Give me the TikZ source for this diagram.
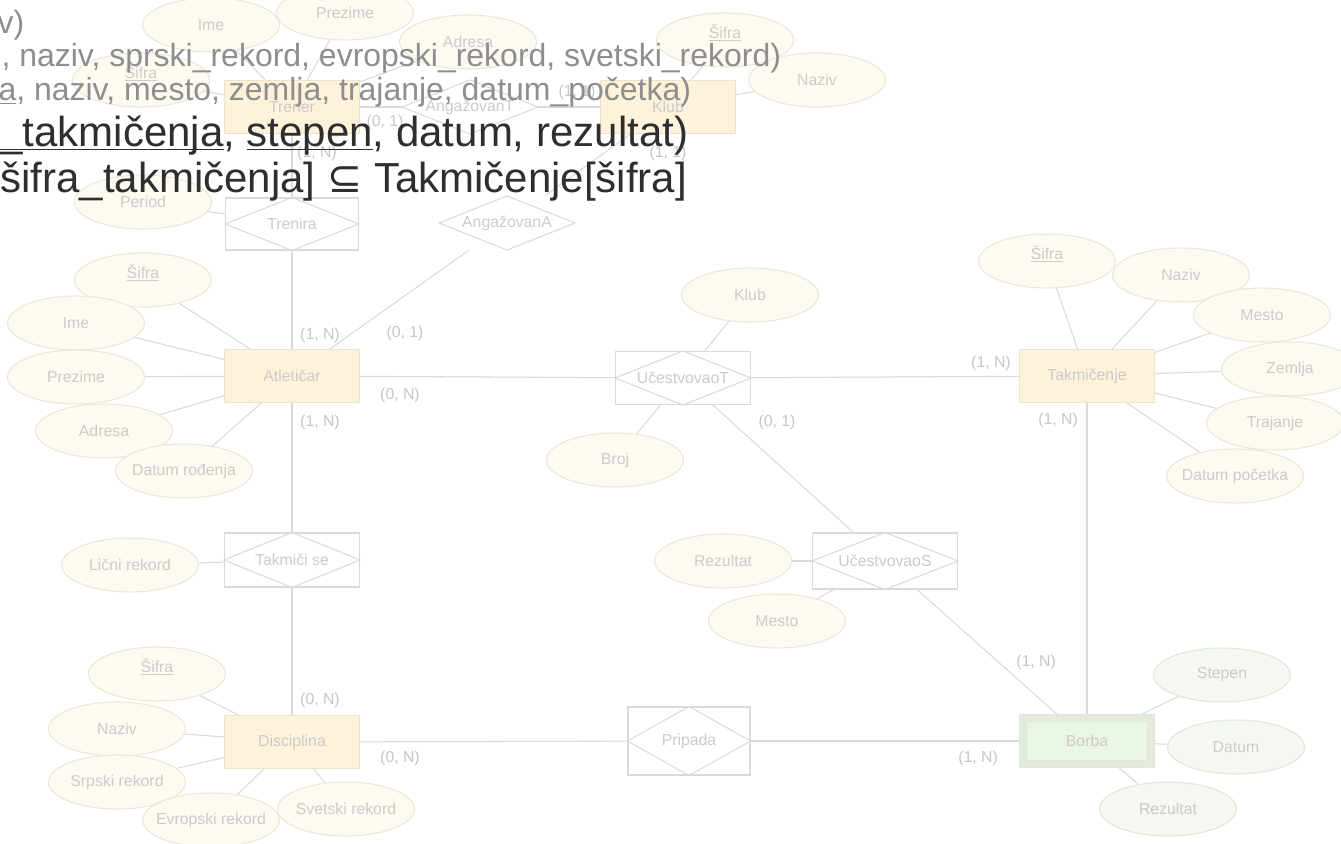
\documentclass[tikz,border=0pt]{standalone}
\usepackage{fontspec}
\setmainfont{Liberation Sans}
\newfontfamily\symfont{DejaVu Sans}
\usetikzlibrary{shapes.geometric}
\definecolor{entfill}{HTML}{FEF3DA}
\definecolor{entline}{HTML}{EEE2C8}
\definecolor{attfill}{HTML}{FDFAF2}
\definecolor{attline}{HTML}{ECE6D8}
\definecolor{gfill}{HTML}{F4F8F1}
\definecolor{gline}{HTML}{DFE6DA}
\definecolor{gouter}{HTML}{E3EBDD}
\definecolor{ginner}{HTML}{EAF5E3}
\definecolor{lnc}{HTML}{DADADA}
\definecolor{lbl}{HTML}{CBCBCB}
\definecolor{cardc}{HTML}{C6C6C6}
\definecolor{grayt}{HTML}{8E8E8E}
\definecolor{darkt}{HTML}{2E2E2E}
\newcommand{\keyul}[1]{\underline{\smash{#1}}}

\begin{document}
\begin{tikzpicture}[x=0.02cm, y=-0.02cm, line width=0.6pt,
	every node/.style={font=\fontsize{9}{10}\selectfont, text=lbl},
	ent/.style={draw=entline, fill=entfill, minimum width=2.7cm, minimum height=1.06cm, inner sep=0pt},
	attr/.style={ellipse, draw=attline, fill=attfill, minimum width=2.74cm, minimum height=1.08cm, inner xsep=-8pt, inner ysep=0pt},
	gattr/.style={attr, draw=gline, fill=gfill},
	rel/.style={draw=lnc, minimum width=2.7cm, minimum height=1.06cm, inner sep=0pt},
	dia/.style={rel, draw=none},
	card/.style={text=cardc},
	txt/.style={anchor=base west, inner sep=0pt, text=grayt, font=\fontsize{18.2}{20}\selectfont},
	big/.style={txt, text=darkt, font=\fontsize{23.9}{26}\selectfont}]
	\useasboundingbox (0,0) rectangle (1341,844);
	\clip (0,0) rectangle (1341,844);
	\fill[white] (0,0) rectangle (1341,844);

	\node[ent] (trener) at (292,107) {Trener};
	\node[ent] (klub) at (668,107) {Klub};
	\node[ent] (atl) at (292,376) {Atletičar};
	\node[ent] (tak) at (1087,376) {Takmičenje};
	\node[ent] (disc) at (292,742) {Disciplina};
	\node[ent, draw=gline, fill=gouter] (borba) at (1087,741) {};
	\node[draw=gline, fill=ginner, minimum width=2.42cm, minimum height=0.78cm, inner sep=0pt] (borbaIn) at (borba) {Borba};

	\node[rel, minimum width=2.66cm, minimum height=1.04cm] (tren) at (292,224) {Trenira};
	\node[dia] (angT) at (470,107) {AngažovanT};
	\node[dia] (angA) at (507,223) {AngažovanA};
	\node[rel] (ucT) at (683,378) {UčestvovaoT};
	\node[rel, minimum height=1.08cm] (takSe) at (292,560) {Takmiči se};
	\node[rel, minimum width=2.9cm, minimum height=1.12cm] (ucS) at (885,561) {UčestvovaoS};
	\node[rel, minimum width=2.44cm, minimum height=1.36cm] (prip) at (689,741) {Pripada};
	\foreach \r in {tren, angT, angA, ucT, takSe, ucS, prip}
		\draw[lnc] (\r.west) -- (\r.north) -- (\r.east) -- (\r.south) -- cycle;

	\node[attr] (trSif) at (141,80) {\keyul{Šifra}};
	\node[attr] (trIme) at (211,25) {Ime};
	\node[attr] (trPrez) at (345,13) {Prezime};
	\node[attr] (trAdr) at (468,42) {Adresa};
	\node[attr] (period) at (143,202) {Period};
	\node[attr] (klSif) at (725,40) {\keyul{Šifra}};
	\node[attr] (klNaz) at (817,80) {Naziv};

	\node[attr] (atlSif) at (143,280) {\keyul{Šifra}};
	\node[attr] (atlIme) at (76,323) {Ime};
	\node[attr] (atlPrez) at (76,377) {Prezime};
	\node[attr] (atlAdr) at (104,431) {Adresa};
	\node[attr] (atlDat) at (184,471) {Datum rođenja};
	\node[attr] (klubA) at (750,295) {Klub};
	\node[attr] (broj) at (615,460) {Broj};
	\node[attr] (rezS) at (723,561) {Rezultat};
	\node[attr] (mesS) at (777,621) {Mesto};
	\node[attr] (takSif) at (1047,261) {\keyul{Šifra}};
	\node[attr] (takNaz) at (1181,275) {Naziv};
	\node[attr] (takMes) at (1262,315) {Mesto};
	\node[attr] (takZem) at (1290,369) {Zemlja};
	\node[attr] (takTra) at (1275,423) {Trajanje};
	\node[attr] (takDat) at (1235,476) {Datum početka};
	\node[attr] (licni) at (130,565) {Lični rekord};
	\node[attr] (discSif) at (157,674) {\keyul{Šifra}};
	\node[attr] (discNaz) at (117,729) {Naziv};
	\node[attr] (discSrp) at (117,782) {Srpski rekord};
	\node[attr] (discEvr) at (211,820) {Evropski rekord};
	\node[attr] (discSvet) at (346,809) {Svetski rekord};
	\node[gattr] (stepen) at (1222,675) {Stepen};
	\node[gattr] (datum) at (1236,747) {Datum};
	\node[gattr] (rezB) at (1168,809) {Rezultat};

	\foreach \a/\b in {trener/trSif, trener/trIme, trener/trPrez, trener/trAdr, trener/angT, angT/klub, trener/tren, tren/period, klub/klSif, klub/klNaz, klub/angA,
		atl/tren, atl/angA, atl/ucT, atl/takSe, takSe/disc, takSe/licni, ucT/tak, ucT/klubA, ucT/broj, ucT/ucS, ucS/borba, ucS/rezS, ucS/mesS, tak/borba, disc/prip, prip/borba,
		atl/atlSif, atl/atlIme, atl/atlPrez, atl/atlAdr, atl/atlDat, tak/takSif, tak/takNaz, tak/takMes, tak/takZem, tak/takTra, tak/takDat,
		disc/discSif, disc/discNaz, disc/discSrp, disc/discEvr, disc/discSvet, borba/stepen, borba/datum, borba/rezB}
		\draw[lnc] (\a) -- (\b);

	\node[card] (c1) at (385,122) {(0, 1)};
	\node[card] (c2) at (317,153) {(1, N)};
	\node[card] (c3) at (577,92) {(1, 1)};
	\node[card] (c4) at (668,153) {(1, 1)};
	\node[card] (c5) at (320,335) {(1, N)};
	\node[card] (c6) at (405,333) {(0, 1)};
	\node[card] (c7) at (400,395) {(0, N)};
	\node[card] (c8) at (320,422) {(1, N)};
	\node[card] (c9) at (991,363) {(1, N)};
	\node[card] (c10) at (1058,420) {(1, N)};
	\node[card] (c11) at (777,422) {(0, 1)};
	\node[card] (c12) at (1036,662) {(1, N)};
	\node[card] (c13) at (320,700) {(0, N)};
	\node[card] (c14) at (400,758) {(0, N)};
	\node[card] (c15) at (978,758) {(1, N)};

	\node[txt] (l2) at (-3,34) {v)};
	\node[txt] (l3) at (1,67) {, naziv, sprski\_rekord, evropski\_rekord, svetski\_rekord)};
	\node[txt] (l4) at (-2,101) {\keyul{a}, naziv, mesto, zemlja, trajanje, datum\_početka)};
	\node[big] (l5) at (-1,147) {\keyul{\_takmičenja}, \keyul{stepen}, datum, rezultat)};
	\node[big] (l6) at (0,193) {šifra\_takmičenja] {\symfont ⊆} Takmičenje[šifra]};
\end{tikzpicture}
\end{document}
